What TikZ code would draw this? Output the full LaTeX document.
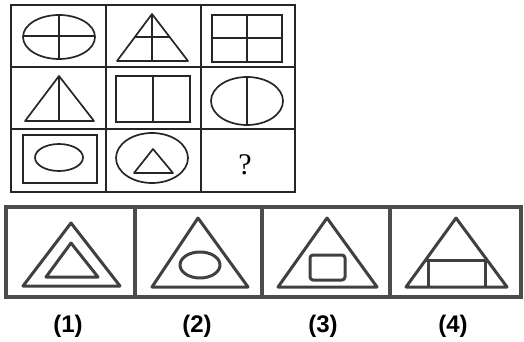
\documentclass[tikz,border=0pt]{standalone}
\usepackage{fontspec}
\setmainfont{Liberation Serif}
\newfontfamily\labfont{Liberation Sans}
\begin{document}
\begin{tikzpicture}[x=1pt,y=-1pt,
  grid/.style={line width=1.8pt,draw=black!85},
  fig/.style={line width=1.7pt,draw=black!85},
  heavy/.style={line width=3.6pt,draw=black!70},
  heavyfig/.style={line width=3pt,draw=black!75,line join=round},
  lab/.style={font=\labfont\bfseries\fontsize{24}{28}\selectfont,inner sep=0pt}]
\useasboundingbox (0,0) rectangle (524,342);
% ---- top grid ----
\draw[grid] (11,5) rectangle (295,192);
\draw[grid] (106,5) -- (106,192) (201,5) -- (201,192);
\draw[grid] (11,67) -- (295,67) (11,129) -- (295,129);
% cell 1,1
\draw[fig] (59,37) ellipse [x radius=36,y radius=22];
\draw[fig] (59,15) -- (59,59) (23,36) -- (95,36);
% cell 1,2
\draw[fig,line join=round] (152,14) -- (188,61) -- (117,61) -- cycle;
\draw[fig] (152,14) -- (152,61) (134.5,37) -- (169.5,37);
% cell 1,3
\draw[fig] (212,15) rectangle (282,62);
\draw[fig] (247,15) -- (247,62) (212,38) -- (282,38);
% cell 2,1
\draw[fig,line join=round] (59,76) -- (94,121) -- (25,121) -- cycle;
\draw[fig] (59,76) -- (59,121);
% cell 2,2
\draw[fig] (116,76) rectangle (190,122);
\draw[fig] (153,76) -- (153,122);
% cell 2,3
\draw[fig] (247,101) ellipse [x radius=36,y radius=24];
\draw[fig] (247,77) -- (247,125);
% cell 3,1
\draw[fig,line width=2.4pt] (23,135) rectangle (97,183);
\draw[fig] (59,157.5) ellipse [x radius=24,y radius=13.5];
% cell 3,2
\draw[fig] (152,158) ellipse [x radius=36,y radius=25];
\draw[fig,line join=round] (153,149) -- (173,173) -- (134,173) -- cycle;
% cell 3,3
\node[font=\fontsize{30}{32}\selectfont,inner sep=0pt] (q) at (245,165) {?};
% ---- options strip ----
\draw[heavy] (6,207) rectangle (521,297);
\draw[heavy] (135,207) -- (135,297) (262,207) -- (262,297) (390,207) -- (390,297);
% option 1
\draw[heavyfig] (71,223) -- (120,286) -- (23,286) -- cycle;
\draw[heavyfig] (71,243) -- (98,277) -- (46,277) -- cycle;
% option 2
\draw[heavyfig] (198,218) -- (248,287) -- (152,287) -- cycle;
\draw[heavyfig] (200,265) ellipse [x radius=20,y radius=13];
% option 3
\draw[heavyfig] (327,218) -- (377,287) -- (278,287) -- cycle;
\draw[heavyfig,rounded corners=3pt] (310,255) rectangle (345,280);
% option 4
\draw[heavyfig] (456,218) -- (507,287) -- (406,287) -- cycle;
\draw[heavyfig] (426,260) -- (486,260) (428,260) -- (428,287) (485,260) -- (485,287);
% labels
\node[lab] (l1) at (68,326) {(1)};
\node[lab] (l2) at (197,326) {(2)};
\node[lab] (l3) at (323,326) {(3)};
\node[lab] (l4) at (453,326) {(4)};
\end{tikzpicture}
\end{document}
